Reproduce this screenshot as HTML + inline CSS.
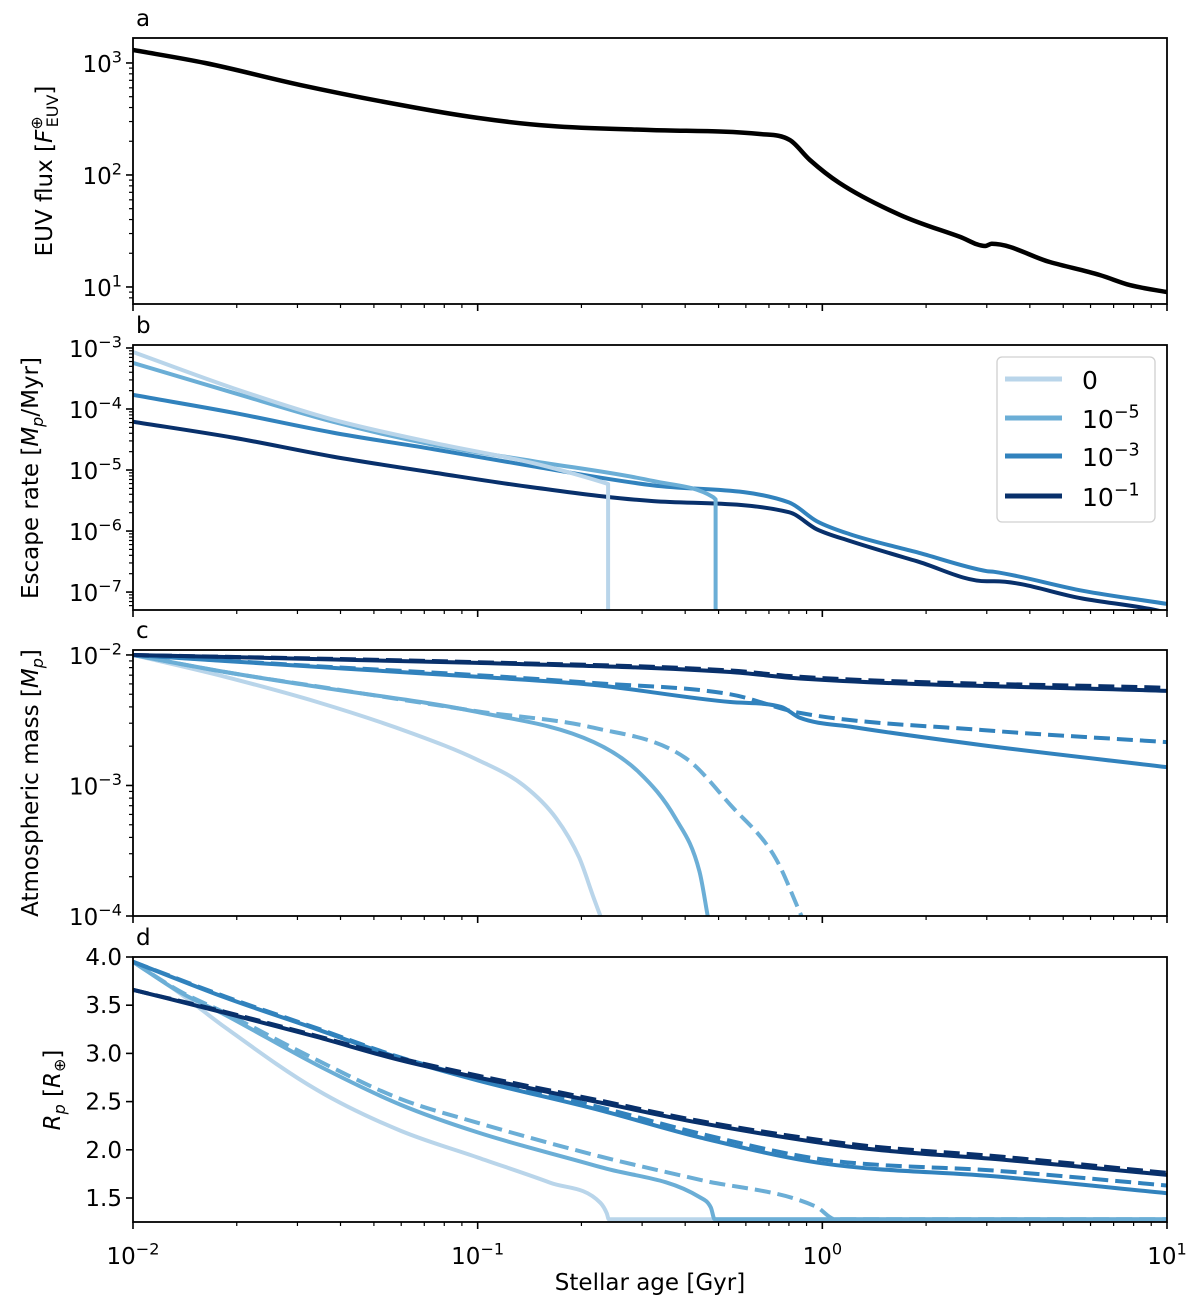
<!DOCTYPE html>
<html><head><meta charset="utf-8">
<style>
html,body{margin:0;padding:0;background:#fff;}
svg{display:block;font-family:"DejaVu Sans","Liberation Sans",sans-serif;}
</style></head>
<body>
<svg id="fig" width="1200" height="1300" viewBox="0 0 1200 1300" xmlns="http://www.w3.org/2000/svg"></svg>
<script>
// ---- Data (ages in Gyr) ----
const euvAge = [0.01,0.0162,0.0305,0.0596,0.1,0.162,0.316,0.659,0.805,0.92,1.12,1.68,2.51,2.97,3.1,4.57,6.38,7.8,10];
const euvFlux = [1306,1000,637,422,323,274,252,232,205,136,85,44,28,23.2,24.3,16.7,12.8,10.4,9.0];

const escAge0 = [0.01,0.0195,0.038,0.0742,0.1446,0.2265,0.239,0.239];
const escVal0 = [8.6e-4,2.2e-4,6.7e-5,2.8e-5,1.3e-5,6.5e-6,5.9e-6,1e-8];
const escAge1 = [0.01,0.0195,0.038,0.0742,0.1446,0.323,0.482,0.49,0.49];
const escVal1 = [5.7e-4,1.85e-4,6.2e-5,2.6e-5,1.4e-5,6.6e-6,3.6e-6,3.3e-6,1e-8];
const escAge2 = [0.01,0.0195,0.038,0.0742,0.1446,0.323,0.80,0.964,1.20,1.88,3.0,3.15,5.7,10];
const escVal2 = [1.7e-4,8.7e-5,4.1e-5,2.2e-5,1.15e-5,5.6e-6,2.95e-6,1.45e-6,8.9e-7,4.5e-7,2.2e-7,2.15e-7,1.05e-7,6.4e-8];
const escAge3 = [0.01,0.0195,0.038,0.0742,0.1446,0.323,0.80,0.964,1.20,1.88,3.0,3.15,5.7,8.9,10];
const escVal3 = [6.2e-5,3.4e-5,1.66e-5,9.1e-6,5.2e-6,3.1e-6,2.04e-6,1.07e-6,6.9e-7,3.2e-7,1.5e-7,1.5e-7,7.8e-8,5.3e-8,4.6e-8];

const massAge0 = [0.01,0.0185,0.0342,0.0632,0.1,0.136,0.169,0.197,0.217,0.227];
const massVal0 = [0.01,6.8e-3,4.36e-3,2.56e-3,1.57e-3,1e-3,5.6e-4,2.8e-4,1.38e-4,1e-4];
const massAge1 = [0.01,0.0185,0.0342,0.1,0.217,0.294,0.375,0.44,0.465];
const massVal1 = [0.01,7.4e-3,5.7e-3,3.65e-3,2.15e-3,1.26e-3,5.6e-4,2.2e-4,1e-4];
const massAge1d = [0.01,0.0185,0.0342,0.1,0.217,0.40,0.541,0.73,0.87];
const massVal1d = [0.01,7.4e-3,5.75e-3,3.7e-3,2.77e-3,1.63e-3,7.1e-4,2.8e-4,1e-4];
const massAge2 = [0.01,0.0342,0.1,0.217,0.541,0.76,0.86,1.23,2.9,10];
const massVal2 = [0.01,8.1e-3,6.8e-3,5.9e-3,4.36e-3,4.0e-3,3.3e-3,2.8e-3,2.04e-3,1.38e-3];
const massAge2d = [0.01,0.0342,0.1,0.217,0.541,0.86,2.9,10];
const massVal2d = [0.01,8.2e-3,7.0e-3,6.1e-3,5.0e-3,3.6e-3,2.66e-3,2.15e-3];
const massAge3 = [0.01,0.1,0.541,0.86,10];
const massVal3 = [0.01,8.7e-3,7.4e-3,6.6e-3,5.3e-3];
const massAge3d = [0.01,0.1,0.541,0.86,10];
const massVal3d = [0.01,8.8e-3,7.6e-3,6.8e-3,5.6e-3];

const radAge0 = [0.01,0.0136,0.0185,0.0342,0.0595,0.1,0.162,0.227,0.237,0.24,10];
const radVal0 = [3.95,3.63,3.27,2.62,2.20,1.92,1.66,1.45,1.34,1.28,1.28];
const radAge1 = [0.01,0.0136,0.0185,0.0342,0.0595,0.1,0.227,0.44,0.475,0.487,10];
const radVal1 = [3.95,3.64,3.40,2.88,2.47,2.18,1.82,1.51,1.40,1.28,1.28];
const radAge1d = [0.01,0.0136,0.0185,0.0342,0.0595,0.1,0.227,0.44,0.96,1.09,10];
const radVal1d = [3.95,3.65,3.42,2.93,2.53,2.28,1.93,1.69,1.41,1.28,1.28];
const radAge2 = [0.01,0.0185,0.0342,0.0595,0.1,0.227,0.44,1.0,3.27,10];
const radVal2 = [3.95,3.58,3.25,2.95,2.72,2.41,2.13,1.86,1.72,1.55];
const radAge2d = [0.01,0.0185,0.0342,0.0595,0.1,0.227,0.44,1.0,3.27,10];
const radVal2d = [3.95,3.59,3.26,2.96,2.74,2.44,2.17,1.90,1.78,1.63];
const radAge3 = [0.01,0.0185,0.0342,0.0595,0.1,0.227,0.44,1.28,3.27,10];
const radVal3 = [3.66,3.42,3.17,2.93,2.75,2.49,2.28,2.02,1.90,1.74];
const radAge3d = [0.01,0.0185,0.0342,0.0595,0.1,0.227,0.44,1.28,3.27,10];
const radVal3d = [3.66,3.43,3.18,2.95,2.77,2.51,2.30,2.05,1.93,1.76];

const legendLabels = ["0","10|−5","10|−3","10|−1"];
const colors = ["#b9d5ea","#6baed6","#3182bd","#08306b"];

// ---- Rendering ----
const NS="http://www.w3.org/2000/svg";
const svg=document.getElementById('fig');
function mk(tag,attrs,parent){const e=document.createElementNS(NS,tag);for(const k in attrs)e.setAttribute(k,attrs[k]);(parent||svg).appendChild(e);return e;}
const X0=133,X1=1167;
function xs(t){return X0+(Math.log10(t)+2)/3*(X1-X0);}
function logScale(top,bot,lmax,lmin){return v=>top+(lmax-Math.log10(v))/(lmax-lmin)*(bot-top);}
function linScale(top,bot,vmax,vmin){return v=>top+(vmax-v)/(vmax-vmin)*(bot-top);}

const panels=[
 {name:'a',top:38,bot:304,ys:logScale(38,304,3.223,0.848),log:true,lmin:0.848,lmax:3.223},
 {name:'b',top:345,bot:610,ys:logScale(345,610,-2.951,-7.294),log:true,lmin:-7.294,lmax:-2.951},
 {name:'c',top:650,bot:916,ys:logScale(650,916,-1.962,-4),log:true,lmin:-4,lmax:-1.962},
 {name:'d',top:957,bot:1222,ys:linScale(957,1222,4.0,1.251),log:false}
];
const TFS=23;

function supText(g,x,y,base,exp,anchor,size,name){
  const t=mk('text',{x:x,y:y,'font-size':size,'text-anchor':anchor,fill:'#000'},g);
  
  
  const s1=mk('tspan',{},t);s1.textContent=base;
  if(exp!==null){const s2=mk('tspan',{'font-size':size*0.7,dy:-size*0.42},t);s2.textContent=exp;}
  return t;
}

panels.forEach((p,pi)=>{
  const g=mk('g',{});
  
  
  const clipId='clip'+p.name;
  const cp=mk('clipPath',{id:clipId},g);
  mk('rect',{x:X0,y:p.top,width:X1-X0,height:p.bot-p.top},cp);
  for(let d=-2;d<=1;d++){
    for(let m=1;m<=9;m++){
      const v=m*Math.pow(10,d); if(v>10.0001)break;
      const x=xs(v);
      const major=m===1;
      const tk=mk('line',{x1:x,x2:x,y1:p.bot,y2:p.bot+(major?7:4),stroke:'#000','stroke-width':major?1.6:1.2},g);
      
      
      if(pi===3&&major){supText(g,x,1264,'10',d<0?'−'+(-d):String(d),'middle',TFS,'x-tick-label');}
    }
  }
  if(p.log){
    for(let d=Math.floor(p.lmin);d<=Math.ceil(p.lmax);d++){
      for(let m=1;m<=9;m++){
        const lv=d+Math.log10(m);
        if(lv<p.lmin-1e-6||lv>p.lmax+1e-6)continue;
        const y=p.ys(Math.pow(10,lv));
        const major=m===1;
        const tk=mk('line',{x1:X0,x2:X0-(major?7:4),y1:y,y2:y,stroke:'#000','stroke-width':major?1.6:1.2},g);
        
        
        if(major) supText(g,X0-11,y+9,'10',d<0?'−'+(-d):String(d),'end',TFS,'y-tick-label');
      }
    }
  } else {
    [1.5,2.0,2.5,3.0,3.5,4.0].forEach(v=>{
      const y=p.ys(v);
      const tk=mk('line',{x1:X0,x2:X0-7,y1:y,y2:y,stroke:'#000','stroke-width':1.6},g);
      
      
      const t=mk('text',{x:X0-11,y:y+8,'font-size':TFS,'text-anchor':'end'},g);
      
      
      t.textContent=v.toFixed(1);
    });
  }
  const lt=mk('text',{x:X0+3,y:p.top-12,'font-size':TFS},g);
  
  
  lt.textContent=p.name;
  p.g=g;p.clip=clipId;
});

function monoRun(P){
  const n=P.length; if(n<2) return '';
  if(n===2) return ' L'+P[1][0].toFixed(1)+','+P[1][1].toFixed(1);
  const dx=[],s=[];
  for(let i=0;i<n-1;i++){dx.push(P[i+1][0]-P[i][0]);s.push((P[i+1][1]-P[i][1])/dx[i]);}
  const m=[s[0]];
  for(let i=1;i<n-1;i++){m.push(s[i-1]*s[i]<=0?0:(s[i-1]+s[i])/2);}
  m.push(s[n-2]);
  for(let i=0;i<n-1;i++){
    if(s[i]===0){m[i]=0;m[i+1]=0;continue;}
    const a=m[i]/s[i],b=m[i+1]/s[i],h=a*a+b*b;
    if(h>9){const t=3/Math.sqrt(h);m[i]=t*a*s[i];m[i+1]=t*b*s[i];}
  }
  let d='';
  for(let i=0;i<n-1;i++){
    const h=dx[i]/3;
    d+=' C'+(P[i][0]+h).toFixed(1)+','+(P[i][1]+m[i]*h).toFixed(1)+' '+(P[i+1][0]-h).toFixed(1)+','+(P[i+1][1]-m[i+1]*h).toFixed(1)+' '+P[i+1][0].toFixed(1)+','+P[i+1][1].toFixed(1);
  }
  return d;
}
function smoothPath(P){
  let d='M'+P[0][0].toFixed(1)+','+P[0][1].toFixed(1);
  let run=[P[0]];
  for(let i=1;i<P.length;i++){
    if(Math.abs(P[i][0]-P[i-1][0])<0.5){
      d+=monoRun(run);
      d+=' L'+P[i][0].toFixed(1)+','+P[i][1].toFixed(1);
      run=[P[i]];
    } else run.push(P[i]);
  }
  d+=monoRun(run);
  return d;
}
function drawLine(p,ages,vals,color,dash,name,w){
  const P=ages.map((a,i)=>[xs(a),p.ys(vals[i])]);
  const attrs={d:smoothPath(P),fill:'none',stroke:color,'stroke-width':w||4,'stroke-linejoin':'round','clip-path':'url(#'+p.clip+')'};
  if(dash)attrs['stroke-dasharray']='16,7';
  const l=mk('path',attrs,p.g);
  
  
}
const [pa,pb,pc,pd]=panels;
drawLine(pa,euvAge,euvFlux,'#000',false,'euv-flux-line',4.5);

drawLine(pb,escAge3,escVal3,colors[3],false,'escape-rate-1e-1');
drawLine(pb,escAge2,escVal2,colors[2],false,'escape-rate-1e-3');
drawLine(pb,escAge1,escVal1,colors[1],false,'escape-rate-1e-5');
drawLine(pb,escAge0,escVal0,colors[0],false,'escape-rate-0');

drawLine(pc,massAge0,massVal0,colors[0],false,'atm-mass-0');
drawLine(pc,massAge1,massVal1,colors[1],false,'atm-mass-1e-5');
drawLine(pc,massAge1d,massVal1d,colors[1],true,'atm-mass-1e-5-dashed');
drawLine(pc,massAge2,massVal2,colors[2],false,'atm-mass-1e-3');
drawLine(pc,massAge2d,massVal2d,colors[2],true,'atm-mass-1e-3-dashed');
drawLine(pc,massAge3,massVal3,colors[3],false,'atm-mass-1e-1');
drawLine(pc,massAge3d,massVal3d,colors[3],true,'atm-mass-1e-1-dashed');

drawLine(pd,radAge0,radVal0,colors[0],false,'radius-0');
drawLine(pd,radAge1,radVal1,colors[1],false,'radius-1e-5');
drawLine(pd,radAge1d,radVal1d,colors[1],true,'radius-1e-5-dashed');
drawLine(pd,radAge2,radVal2,colors[2],false,'radius-1e-3');
drawLine(pd,radAge2d,radVal2d,colors[2],true,'radius-1e-3-dashed');
drawLine(pd,radAge3,radVal3,colors[3],false,'radius-1e-1');
drawLine(pd,radAge3d,radVal3d,colors[3],true,'radius-1e-1-dashed');

panels.forEach(p=>{
  const r=mk('rect',{x:X0,y:p.top,width:X1-X0,height:p.bot-p.top,fill:'none',stroke:'#000','stroke-width':1.8},p.g);
  
  
});

const lg=mk('g',{});


mk('rect',{x:997,y:357,width:158,height:165,rx:5,fill:'#fff','fill-opacity':0.85,stroke:'#d0d0d0','stroke-width':1.3},lg);
const legY=[379,418,456,496];
legendLabels.forEach((lab,i)=>{
  const ln=mk('line',{x1:1005,x2:1062,y1:legY[i],y2:legY[i],stroke:colors[i],'stroke-width':5},lg);
  
  
  const parts=lab.split('|');
  supText(lg,1082,legY[i]+10,parts[0],parts.length>1?parts[1]:null,'start',25,'legend-entry');
});
</script>
<svg style="position:absolute;left:0;top:0" width="1200" height="1300" xmlns="http://www.w3.org/2000/svg" font-family="DejaVu Sans, Liberation Sans, sans-serif">
  <text transform="translate(52,171) rotate(-90)" font-size="23" text-anchor="middle">EUV flux [<tspan font-style="italic">F</tspan><tspan font-size="16" dy="-10">⊕</tspan><tspan font-size="16" dy="16" dx="-11">EUV</tspan><tspan dy="-6">]</tspan></text>
  <text transform="translate(38,478) rotate(-90)" font-size="23" text-anchor="middle">Escape rate [<tspan font-style="italic">M</tspan><tspan font-style="italic" font-size="16" dy="5">p</tspan><tspan dy="-5">/Myr]</tspan></text>
  <text transform="translate(38,783) rotate(-90)" font-size="23" text-anchor="middle">Atmospheric mass [<tspan font-style="italic">M</tspan><tspan font-style="italic" font-size="16" dy="5">p</tspan><tspan dy="-5">]</tspan></text>
  <text transform="translate(60,1090) rotate(-90)" font-size="23" text-anchor="middle"><tspan font-style="italic">R</tspan><tspan font-style="italic" font-size="16" dy="5">p</tspan><tspan dy="-5"> [</tspan><tspan font-style="italic">R</tspan><tspan font-size="16" dy="5">⊕</tspan><tspan dy="-5">]</tspan></text>
  <text x="650" y="1290" font-size="23" text-anchor="middle">Stellar age [Gyr]</text>
</svg>
</body></html>
